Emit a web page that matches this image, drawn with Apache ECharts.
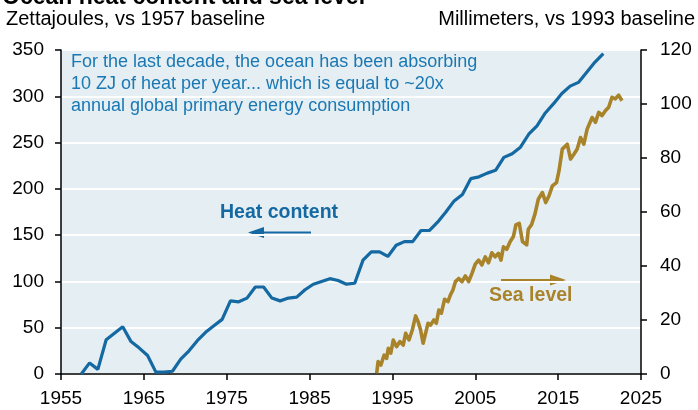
<!DOCTYPE html>
<html>
<head>
<meta charset="utf-8">
<script src="https://cdn.jsdelivr.net/npm/echarts@6/dist/echarts.min.js"></script>
<style>html,body{margin:0;padding:0;background:#fff}#c{width:698px;height:410px}</style>
</head>
<body>
<div id="c"></div>
<script>
// Ocean heat content (ZJ vs 1957), annual
const heatYears = [1957,1958,1959,1960,1961,1962,1963,1964,1965,1966,1967,1968,1969,1970,1971,1972,1973,1974,1975,1976,1977,1978,1979,1980,1981,1982,1983,1984,1985,1986,1987,1988,1989,1990,1991,1992,1993,1994,1995,1996,1997,1998,1999,2000,2001,2002,2003,2004,2005,2006,2007,2008,2009,2010,2011,2012,2013,2014,2015,2016,2017,2018,2019,2020];
const heatValues = [0,12,5,37,44,51,35,28,20,2,2,3,16,25,36,45,52,59,79,78,82,94,94,82,79,82,83,91,97,100,103,101,97,98,123,132,132,127,139,143,143,155,155,164,175,187,194,211,213,217,220,234,238,245,259,268,282,292,303,311,315,326,337,346];
// Sea level (mm vs 1993)
const seaDates = [1993.1,1993.27,1993.6,1994.0,1994.3,1994.5,1994.8,1995.1,1995.5,1995.9,1996.3,1996.6,1997.0,1997.4,1997.8,1998.1,1998.4,1998.7,1999.0,1999.3,1999.6,2000.0,2000.3,2000.6,2000.9,2001.3,2001.7,2002.0,2002.3,2002.6,2003.0,2003.4,2003.8,2004.2,2004.6,2005.0,2005.4,2005.8,2006.2,2006.6,2007.0,2007.4,2007.8,2008.1,2008.4,2008.8,2009.2,2009.6,2009.9,2010.3,2010.7,2011.2,2011.4,2011.8,2012.2,2012.6,2013.1,2013.5,2013.9,2014.3,2014.8,2015.1,2015.5,2016.1,2016.5,2016.9,2017.3,2017.7,2018.1,2018.5,2019.1,2019.5,2019.9,2020.3,2020.7,2021.1,2021.5,2021.9,2022.3,2022.7];
const seaValues = [0.3,4.6,3.3,7.0,5.8,9.5,7.7,12.6,10.1,12.0,10.7,15.1,12.6,16.3,21.5,19.4,16.3,11.4,15.1,18.8,18.1,20,18.8,23.7,22.5,27.7,26.8,29.3,31.1,34.2,35.4,34.2,36.3,34.2,37.3,40.7,42.2,40.4,43.4,41.2,44.9,43.4,44.7,42.2,47.1,46.2,49.0,50.9,55.2,55.8,49.0,47.8,53.6,55.4,59.2,64.7,67.2,63.5,66,69.7,70.9,75.2,83.3,85.1,79.6,81.4,83.3,87.6,85.1,90.7,95,93.2,96.9,95.7,97.5,98.8,102.5,101.9,103.3,101.2];
const xTicks = {min:1955, max:2025, interval:10};
const leftTicks = {min:0, max:350, interval:50};
const rightTicks = {min:0, max:120, interval:20};

const BLUE = '#1469a3', TEXTBLUE = '#1a78b4', GOLD = '#a8832a';
const FONT = '"Liberation Sans", Arial, sans-serif';
const chart = echarts.init(document.getElementById('c'));
const lbl = {color:'#000', fontSize:19, fontFamily:FONT};
chart.setOption({
  animation:false,
  grid:{left:61, right:57, top:50, bottom:36, show:true, backgroundColor:'#e5eef2', borderWidth:0},
  xAxis:{type:'value', min:xTicks.min, max:xTicks.max, interval:xTicks.interval,
    axisLine:{lineStyle:{color:'#000', width:1.5}}, axisTick:{show:true, length:6, lineStyle:{color:'#000', width:1.5}},
    axisLabel:Object.assign({margin:15, formatter:v=>String(v)}, lbl), splitLine:{show:false}},
  yAxis:[
    {type:'value', position:'left', min:leftTicks.min, max:leftTicks.max, interval:leftTicks.interval,
     axisLine:{show:true, lineStyle:{color:'#000', width:1.5}}, axisTick:{show:true, length:6, lineStyle:{color:'#000', width:1.5}},
     axisLabel:Object.assign({margin:17}, lbl), splitLine:{show:true, lineStyle:{color:'#fff', width:2}}},
    {type:'value', position:'right', min:rightTicks.min, max:rightTicks.max, interval:rightTicks.interval,
     axisLine:{show:true, lineStyle:{color:'#000', width:1.5}}, axisTick:{show:true, length:6, lineStyle:{color:'#000', width:1.5}},
     axisLabel:Object.assign({margin:19}, lbl), splitLine:{show:false}}
  ],
  series:[
    {type:'line', name:'Heat content', yAxisIndex:0, showSymbol:false, symbol:'none',
     lineStyle:{color:BLUE, width:3.2}, data:heatYears.map((y,i)=>[y+0.45, heatValues[i]]), z:3},
    {type:'line', name:'Sea level', yAxisIndex:1, showSymbol:false, symbol:'none',
     lineStyle:{color:GOLD, width:3.6, join:'round'}, data:seaDates.map((d,i)=>[d, seaValues[i]]), z:4}
  ],
  graphic:[
    {type:'text', left:2, top:-14, style:{text:'Ocean heat content and sea level', font:'bold 23px '+FONT, fill:'#000'}},
    {type:'text', left:6, top:9, style:{text:'Zettajoules, vs 1957 baseline', font:'20px '+FONT, fill:'#000'}},
    {type:'text', right:3, top:9, style:{text:'Millimeters, vs 1993 baseline', font:'20px '+FONT, fill:'#000'}},
    {type:'text', left:71, top:51, style:{text:'For the last decade, the ocean has been absorbing\n10 ZJ of heat per year... which is equal to ~20x\nannual global primary energy consumption', font:'18px '+FONT, fill:TEXTBLUE, lineHeight:22}},
    {type:'text', left:220, top:203, style:{text:'Heat content', font:'bold 19.5px '+FONT, fill:BLUE}},
    {type:'line', shape:{x1:262, y1:232.5, x2:311, y2:232.5}, style:{stroke:BLUE, lineWidth:2}},
    {type:'polygon', shape:{points:[[248,232.5],[264,227],[264,238]]}, style:{fill:BLUE}},
    {type:'text', left:489, top:286, style:{text:'Sea level', font:'bold 19.5px '+FONT, fill:GOLD}},
    {type:'line', shape:{x1:501, y1:280, x2:552, y2:280}, style:{stroke:GOLD, lineWidth:2}},
    {type:'polygon', shape:{points:[[566,280],[550,274.5],[550,285.5]]}, style:{fill:GOLD}}
  ]
});
</script>
</body>
</html>
